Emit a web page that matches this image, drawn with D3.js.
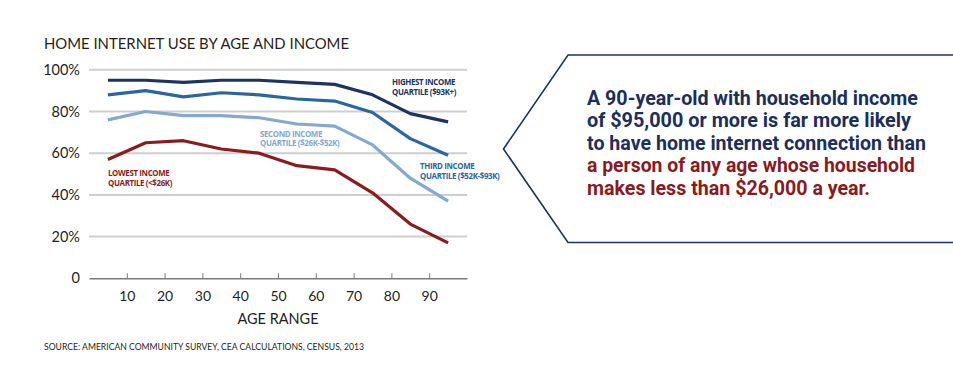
<!DOCTYPE html>
<html><head><meta charset="utf-8">
<script src="https://cdn.jsdelivr.net/npm/d3@7"></script>
<style>body{margin:0;background:#fff}svg{display:block}</style>
</head><body>
<svg id="c" width="953" height="366"></svg>
<script>
const ages = [5,15,25,35,45,55,65,75,85,95];
const highest = [95,95,94,95,95,94,93,88,79,75];
const third   = [88,90,87,89,88,86,85,79.5,67,59];
const second  = [76,80,78,78,77,74,73,64,48,37];
const lowest  = [57,65,66,62,60,54,52,41,26,17];
const xTicks = [10,20,30,40,50,60,70,80,90];
const yTicks = [0,20,40,60,80,100];
const seriesNames = ["highest","third","second","lowest"];
const seriesLabels = {
  highest:["HIGHEST INCOME","QUARTILE ($93K+)"],
  third:["THIRD INCOME","QUARTILE ($52K-$93K)"],
  second:["SECOND INCOME","QUARTILE ($26K-$52K)"],
  lowest:["LOWEST INCOME","QUARTILE (<$26K)"]
};
const title = "HOME INTERNET USE BY AGE AND INCOME";
const xTitle = "AGE RANGE";
const source = "SOURCE: AMERICAN COMMUNITY SURVEY, CEA CALCULATIONS, CENSUS, 2013";
const calloutLines = [
  {t:"A 90-year-old with household income", c:"navy"},
  {t:"of $95,000 or more is far more likely", c:"navy"},
  {t:"to have home internet connection than", c:"navy"},
  {t:"a person of any age whose household", c:"red"},
  {t:"makes less than $26,000 a year.", c:"red"}
];

const values = {highest, third, second, lowest};
const colors = {highest:"#1d3461", third:"#2c66a0", second:"#83a9cf", lowest:"#8a1c20"};
const labelPos = {highest:[392,85], third:[420,169], second:[260,136.5], lowest:[108,176]};

const svg = d3.select("#c");
const x = d3.scaleLinear().domain([0,100]).range([89,467]);
const y = d3.scaleLinear().domain([0,100]).range([278.3,69.8]);
const font = "Lato, 'Open Sans', sans-serif";
const txt = "#231f20";

// grid
svg.append("g").selectAll("line").data(yTicks.filter(d=>d>0)).join("line")
  .attr("x1",x(0)).attr("x2",x(100)).attr("y1",d=>y(d)).attr("y2",d=>y(d))
  .attr("stroke","#cfcfcf").attr("stroke-width",2);

// x axis
const xa = svg.append("g").attr("transform",`translate(0,${y(0)})`)
  .call(d3.axisBottom(x).tickValues(xTicks).tickSize(5).tickSizeOuter(0).tickPadding(8));
xa.select(".domain").attr("stroke","#7a7a7a").attr("stroke-width",1.5);
xa.selectAll(".tick line").attr("stroke","#7a7a7a").attr("y2",-5).attr("y1",0);
xa.selectAll("text").attr("font-family",font).attr("font-size",14).attr("fill",txt);

// y labels
const ya = svg.append("g").attr("transform",`translate(${x(0)},0)`)
  .call(d3.axisLeft(y).tickValues(yTicks).tickSize(0).tickPadding(9).tickFormat(d=>d===0?"0":d+"%"));
ya.select(".domain").remove();
ya.selectAll("text").attr("font-family",font).attr("font-size",14.5).attr("fill",txt);

// lines
const line = d3.line().x((d,i)=>x(ages[i])).y(d=>y(d));
seriesNames.slice().reverse().forEach(k=>{
  svg.append("path").datum(values[k]).attr("d",line)
    .attr("fill","none").attr("stroke",colors[k]).attr("stroke-width",3.2)
    .attr("stroke-linejoin","round");
});

// series labels
seriesNames.forEach(k=>{
  const [lx,ly] = labelPos[k];
  const t = svg.append("text").attr("x",lx).attr("y",ly)
    .attr("font-family","'Open Sans', sans-serif").attr("font-weight",700)
    .attr("font-size",7.9).attr("fill",colors[k]).attr("letter-spacing",-0.35);
  seriesLabels[k].forEach((s,i)=>t.append("tspan").attr("x",lx).attr("dy",i?9.5:0).text(s));
});

// title
svg.append("text").attr("x",44).attr("y",48.5).attr("font-family",font)
  .attr("font-size",15.2).attr("fill",txt)
  .attr("textLength",305).attr("lengthAdjust","spacingAndGlyphs").text(title);
svg.append("text").attr("x",278).attr("y",323.5).attr("text-anchor","middle")
  .attr("font-family",font).attr("font-size",14.5).attr("fill",txt).text(xTitle);
svg.append("text").attr("x",44).attr("y",350).attr("font-family",font)
  .attr("font-size",9.3).attr("fill",txt)
  .attr("textLength",320).attr("lengthAdjust","spacingAndGlyphs").text(source);

// callout
svg.append("path").attr("d","M955,55 L568,55 L503.5,149 L568,242.5 L955,242.5")
  .attr("fill","none").attr("stroke","#1d3461").attr("stroke-width",1.6);
const cc = {navy:"#1c2f5c", red:"#8a1a1e"};
const cw = [331,324,339,328,283];
calloutLines.forEach((l,i)=>{
  svg.append("text").attr("x",587).attr("y",104.5+i*22.6)
    .attr("font-family","Roboto, sans-serif").attr("font-weight",700)
    .attr("font-size",20.5).attr("fill",cc[l.c])
    .attr("textLength",cw[i]).attr("lengthAdjust","spacingAndGlyphs").text(l.t);
});
</script>
</body></html>
